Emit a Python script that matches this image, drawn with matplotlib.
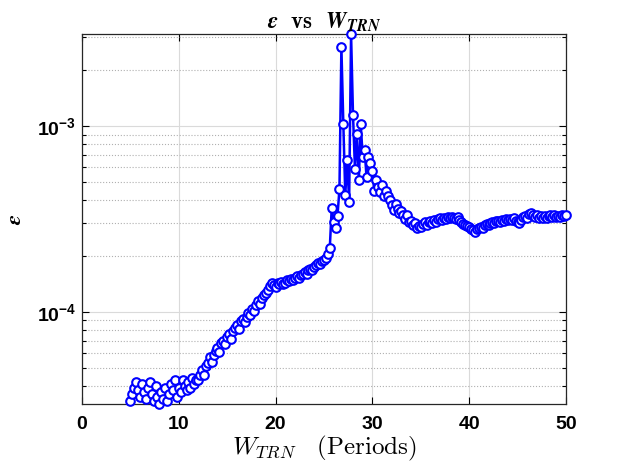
import numpy as np
import matplotlib
matplotlib.use("Agg")
import matplotlib.pyplot as plt
from matplotlib.ticker import FixedLocator, FixedFormatter, LogLocator, NullFormatter

# Tick labels in bold sans (MATLAB look); labels/title use Computer Modern
plt.rcParams['mathtext.fontset'] = 'custom'
plt.rcParams['mathtext.rm'] = 'Liberation Sans:bold'
plt.rcParams['mathtext.it'] = 'Liberation Sans:bold'
plt.rcParams['mathtext.bf'] = 'Liberation Sans:bold'
plt.rcParams['font.family'] = ['Liberation Sans', 'DejaVu Sans']

# =====================================================================
# Data (window length in periods vs. error)
# =====================================================================
w_trn = [
    5.0, 5.2, 5.4, 5.6, 5.8, 6.0, 6.2, 6.4, 6.6, 6.8,
    7.0, 7.2, 7.4, 7.6, 7.8, 8.0, 8.2, 8.4, 8.6, 8.8,
    9.0, 9.2, 9.4, 9.6, 9.8, 10.0, 10.2, 10.4, 10.6, 10.8,
    11.0, 11.2, 11.4, 11.6, 11.8, 12.0, 12.2, 12.4, 12.6, 12.8,
    13.0, 13.2, 13.4, 13.6, 13.8, 14.0, 14.2, 14.4, 14.6, 14.8,
    15.0, 15.2, 15.4, 15.6, 15.8, 16.0, 16.2, 16.4, 16.6, 16.8,
    17.0, 17.2, 17.4, 17.6, 17.8, 18.0, 18.2, 18.4, 18.6, 18.8,
    19.0, 19.2, 19.4, 19.6, 19.8, 20.0, 20.2, 20.4, 20.6, 20.8,
    21.0, 21.2, 21.4, 21.6, 21.8, 22.0, 22.2, 22.4, 22.6, 22.8,
    23.0, 23.2, 23.4, 23.6, 23.8, 24.0, 24.2, 24.4, 24.6, 24.8,
    25.0, 25.2, 25.4, 25.6, 25.8, 26.0, 26.2, 26.4, 26.6, 26.8,
    27.0, 27.2, 27.4, 27.6, 27.8, 28.0, 28.2, 28.4, 28.6, 28.8,
    29.0, 29.2, 29.4, 29.6, 29.8, 30.0, 30.2, 30.4, 30.6, 30.8,
    31.0, 31.2, 31.4, 31.6, 31.8, 32.0, 32.2, 32.4, 32.6, 32.8,
    33.0, 33.2, 33.4, 33.6, 33.8, 34.0, 34.2, 34.4, 34.6, 34.8,
    35.0, 35.2, 35.4, 35.6, 35.8, 36.0, 36.2, 36.4, 36.6, 36.8,
    37.0, 37.2, 37.4, 37.6, 37.8, 38.0, 38.2, 38.4, 38.6, 38.8,
    39.0, 39.2, 39.4, 39.6, 39.8, 40.0, 40.2, 40.4, 40.6, 40.8,
    41.0, 41.2, 41.4, 41.6, 41.8, 42.0, 42.2, 42.4, 42.6, 42.8,
    43.0, 43.2, 43.4, 43.6, 43.8, 44.0, 44.2, 44.4, 44.6, 44.8,
    45.0, 45.2, 45.4, 45.6, 45.8, 46.0, 46.2, 46.4, 46.6, 46.8,
    47.0, 47.2, 47.4, 47.6, 47.8, 48.0, 48.2, 48.4, 48.6, 48.8,
    49.0, 49.2, 49.4, 49.6, 49.8, 50.0,
]

# error in units of 1e-5
eps_e5 = [
    3.3, 3.6, 3.9, 4.2, 3.8, 3.5, 4.1, 3.7, 3.4, 3.9,
    4.2, 3.6, 3.3, 4.0, 3.5, 3.2, 3.7, 3.4, 3.9, 3.3,
    3.6, 4.1, 3.8, 4.3, 3.5, 3.9, 3.7, 4.3, 4.0, 3.8,
    4.2, 3.9, 4.4, 4.1, 4.3, 4.3, 4.6, 4.9, 4.6, 5.1,
    5.3, 5.7, 5.4, 5.9, 6.2, 6.4, 6.1, 6.8, 7.0, 6.7,
    7.3, 7.6, 7.2, 7.9, 8.2, 8.5, 8.1, 8.9, 9.2, 8.8,
    9.4, 9.9, 9.6, 10.4, 10.1, 10.9, 11.4, 11.1, 11.9, 12.3,
    12.7, 13.2, 13.8, 14.3, 14.0, 13.7, 14.4, 14.1, 14.5, 14.2,
    14.3, 14.8, 14.6, 15.1, 14.9, 15.3, 15.6, 15.2, 15.9, 16.1,
    16.4, 16.0, 16.8, 17.1, 16.9, 17.5, 17.9, 18.4, 18.1, 18.8,
    19.0, 19.6, 20.5, 22.0, 36.3, 30.6, 28.3, 33.0, 46.0, 267.0,
    103.0, 42.6, 66.0, 39.0, 313.0, 115.0, 59.0, 91.0, 51.0, 103.0,
    68.0, 74.0, 53.0, 68.0, 63.0, 57.0, 45.0, 51.0, 47.0, 44.0,
    48.0, 42.0, 45.0, 42.0, 40.0, 37.6, 35.4, 38.0, 36.0, 34.0,
    35.0, 33.3, 31.5, 33.3, 30.5, 31.0, 29.5, 30.0, 28.2, 29.0,
    28.5, 29.8, 30.6, 29.5, 30.3, 31.0, 30.2, 31.2, 30.5, 31.5,
    32.0, 31.3, 32.2, 31.6, 32.4, 32.0, 32.6, 32.2, 31.6, 32.6,
    31.3, 30.5, 29.8, 29.5, 29.0, 28.5, 27.8, 27.6, 27.0, 27.8,
    28.2, 28.8, 28.4, 29.2, 29.6, 29.2, 30.0, 30.6, 30.2, 30.8,
    31.0, 30.6, 31.4, 31.0, 31.6, 31.2, 31.8, 31.4, 32.0, 31.0,
    30.4, 30.0, 31.3, 32.4, 33.0, 32.2, 33.6, 34.0, 33.4, 32.6,
    33.2, 32.0, 32.8, 32.2, 33.0, 32.0, 32.8, 33.4, 32.6, 33.2,
    32.4, 33.0, 32.6, 33.2, 32.8, 33.3,
]

x_ticks = [0, 10, 20, 30, 40, 50]
y_ticks = [1e-4, 1e-3]
y_tick_labels = [r'$10^{-4}$', r'$10^{-3}$']

eps = np.array(eps_e5) * 1e-5

# =====================================================================
# Figure
# =====================================================================
fig = plt.figure(figsize=(6.22, 4.68), dpi=100)
ax = fig.add_axes([0.1318, 0.1368, 0.7781, 0.7906])

ax.plot(w_trn, eps, color='#0000ff', linewidth=1.8, marker='o', markersize=6.2,
        markerfacecolor='white', markeredgecolor='#0000ff', markeredgewidth=1.5,
        clip_on=False, zorder=3)

ax.set_yscale('log')
ax.set_xlim(0, 50)
ax.set_ylim(3.2e-5, 3.13e-3)

ax.xaxis.set_major_locator(FixedLocator(x_ticks))
ax.yaxis.set_major_locator(FixedLocator(y_ticks))
ax.yaxis.set_major_formatter(FixedFormatter(y_tick_labels))
ax.yaxis.set_minor_locator(LogLocator(base=10, subs=np.arange(2, 10)))
ax.yaxis.set_minor_formatter(NullFormatter())

ax.grid(True, which='major', color='#dadada', linestyle='-', linewidth=0.8)
ax.grid(True, which='minor', axis='y', color='#b0b0b0', linestyle=':', linewidth=0.8)
ax.set_axisbelow(True)

ax.tick_params(which='both', direction='in', top=True, right=True, width=0.8)
ax.tick_params(which='major', length=5)
ax.tick_params(which='minor', length=3)
for lab in ax.get_xticklabels():
    lab.set_fontsize(14)
    lab.set_fontweight('bold')
ax.tick_params(axis='y', labelsize=14, pad=4)
ax.tick_params(axis='x', labelsize=14, pad=9)
for sp in ax.spines.values():
    sp.set_linewidth(0.9)
    sp.set_color('#262626')

ax.set_xlabel(r'$W_{TRN}\ \ \ \mathrm{(Periods)}$', fontsize=18,
              math_fontfamily='cm', labelpad=0)
ax.set_ylabel(r'$\boldsymbol{\epsilon}$', fontsize=16, math_fontfamily='cm', labelpad=8)
ax.set_title(r'$\boldsymbol{\epsilon}\ \ \mathbf{vs}\ \ \boldsymbol{W}_{\boldsymbol{T}\boldsymbol{R}\boldsymbol{N}}$',
             fontsize=16.5, math_fontfamily='cm', pad=4)

fig.savefig('out.png', dpi=100)
